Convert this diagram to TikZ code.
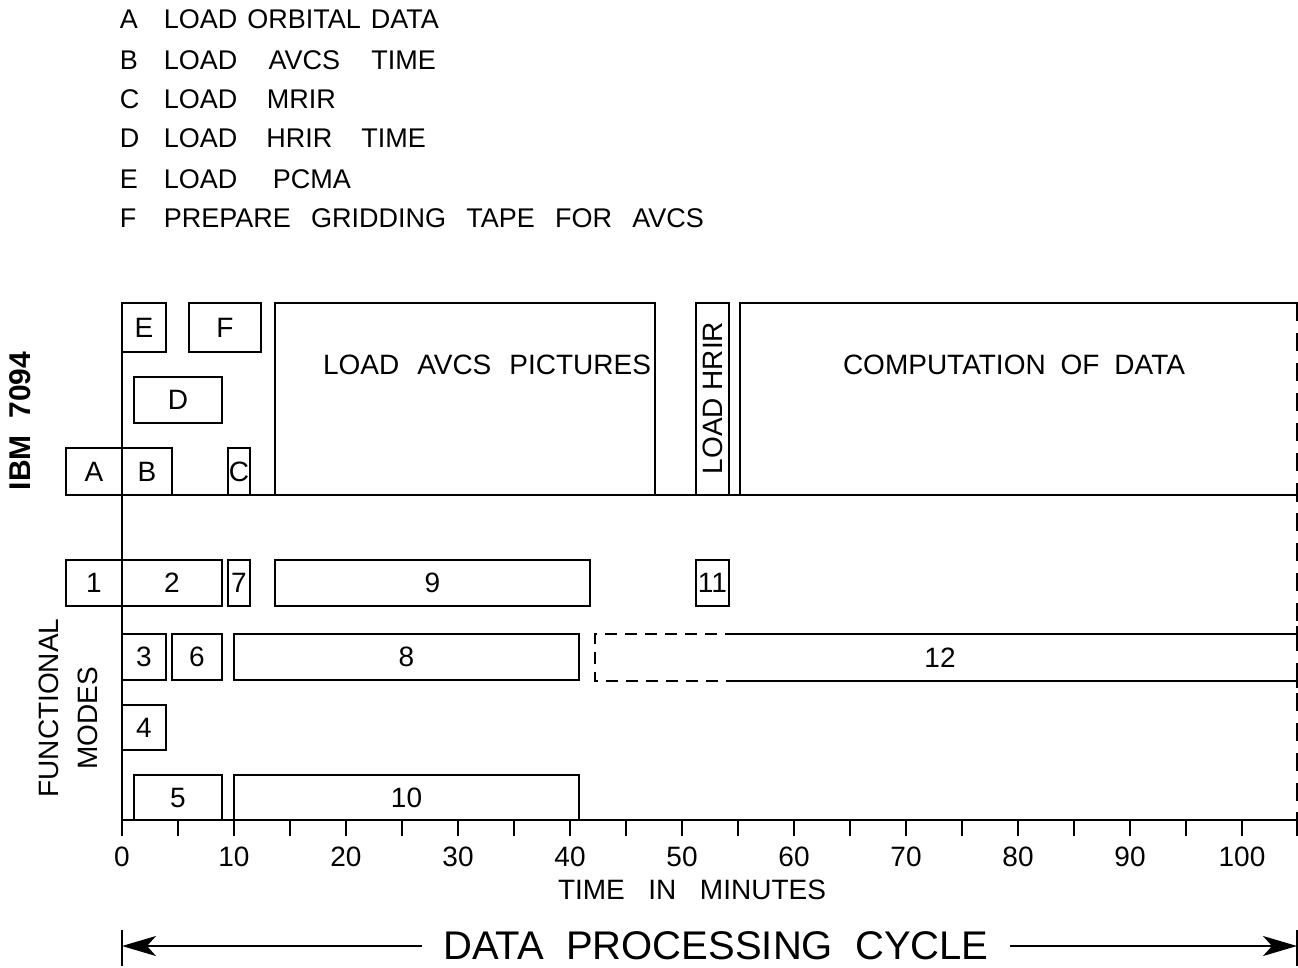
\documentclass[tikz,border=0pt]{standalone}
\usepackage{fontspec}
\setmainfont{Liberation Sans}
\usetikzlibrary{arrows.meta}
\newcommand{\tbox}[6]{\node[bx, minimum width={(#4-#2)*1pt}, minimum height={(#5-#3)*1pt}] (#1) at ({(#2+#4)/2},{(#3+#5)/2}) {#6};}
\newcommand{\spread}[2]{\hbox to #1pt{#2}}
\begin{document}
\begin{tikzpicture}[x=1pt,y=-1pt, line width=1.8pt,
  lbl/.style={font=\fontsize{28}{30}\selectfont, inner sep=0pt},
  leg/.style={font=\fontsize{27}{29}\selectfont, inner sep=0pt, anchor=base west},
  bx/.style={draw, rectangle, inner sep=0pt, font=\fontsize{28}{30}\selectfont},
  dashline/.style={line width=3pt, dash pattern=on 18pt off 12pt},
  shortdash/.style={dash pattern=on 12pt off 8pt},
  tipstyle/.style={-{Stealth[length=34pt,width=20pt,inset=9pt]}}]
\useasboundingbox (0,0) rectangle (1298,967);

% legend
\foreach \k/\t/\w/\y in {A/LOAD\hfil ORBITAL\hfil DATA/275/28, B/LOAD\hfil AVCS\hfil TIME/272/69, C/LOAD\hfil MRIR/172/108, D/LOAD\hfil HRIR\hfil TIME/262/147, E/LOAD\hfil PCMA/187/188, F/PREPARE\hfil GRIDDING\hfil TAPE\hfil FOR\hfil AVCS/540/227}{
  \node[leg] (key\k) at (119,\y) {\k};
  \node[leg] (leg\k) at (163,\y) {\spread{\w}{\t}};
}

% side labels
\node[rotate=90, inner sep=0pt, font=\fontsize{30}{32}\selectfont\bfseries] (ibm) at (20,421) {IBM\ \ 7094};
\node[lbl, rotate=90] (func) at (49,708) {FUNCTIONAL};
\node[lbl, rotate=90] (modes) at (88,718) {MODES};

% IBM 7094 row
\tbox{bE}{122}{303}{166}{352}{E}
\tbox{bF}{189}{303}{261}{352}{F}
\tbox{bD}{134}{377}{222}{423}{D}
\tbox{bA}{66}{448}{122}{495}{A}
\tbox{bB}{122}{448}{172}{495}{B}
\tbox{bC}{228}{448}{250}{495}{C}
\node[bx, minimum width=33pt, minimum height=192pt] (bH) at (712.5,399) {};
\node[lbl, rotate=90] (tH) at (712.5,398) {LOAD HRIR};
\draw (275,495) -- (275,303) -- (655,303) -- (655,495);
\node[lbl] (tAV) at (487,365) {\spread{328}{LOAD\hfil AVCS\hfil PICTURES}};
\draw (740,495) -- (740,303) -- (1297,303);
\node[lbl] (tCO) at (1014,365) {\spread{342}{COMPUTATION\hfil OF\hfil DATA}};

% main frame lines
\draw (66,495) -- (1297,495);
\draw (122,303) -- (122,836);
\draw[dashline] (1297,303) -- (1297,820);
\draw[line width=3pt] (1297,302) -- (1297,318);
\draw[line width=3pt] (1297,488) -- (1297,502);
\draw[line width=3pt] (1297,626) -- (1297,641);
\draw[line width=3pt] (1297,674) -- (1297,688);
\draw[line width=3pt] (1297,812) -- (1297,836);
\draw (737,634) -- (1297,634);
\draw (737,681) -- (1297,681);
\draw[shortdash] (737,634) -- (595,634) -- (595,681) -- (737,681);
\node[lbl] (b12) at (940,658) {12};

% functional modes
\tbox{b1}{66}{560}{122}{606}{1}
\tbox{b2}{122}{560}{222}{606}{2}
\tbox{b7}{228}{560}{250}{606}{7}
\tbox{b9}{275}{560}{590}{606}{9}
\tbox{b11}{696}{560}{729}{606}{11}
\tbox{b3}{122}{634}{166}{680}{3}
\tbox{b6}{172}{634}{222}{680}{6}
\tbox{b8}{234}{634}{579}{680}{8}
\tbox{b4}{122}{705}{166}{750}{4}
\tbox{b5}{134}{775}{222}{820}{5}
\tbox{b10}{234}{775}{579}{820}{10}

% axis
\draw (122,820) -- (1297,820);
\foreach \i in {1,...,20} \draw (122+\i*56,820) -- ++(0,16);
\foreach \v in {0,10,...,100} \node[lbl] (tk\v) at (122+\v*11.2,857) {\v};
\node[lbl] (tim) at (692,890) {\spread{268}{TIME\hfil IN\hfil MINUTES}};

% cycle arrow
\coordinate (la) at (122,946);
\coordinate (ra) at (1297,946);
\draw (122,930) -- (122,966);
\draw (1297,930) -- (1297,966);
\node[font=\fontsize{40}{42}\selectfont, inner ysep=0pt, inner xsep=20pt] (dpc) at (716,946) {DATA\ \ PROCESSING\ \ CYCLE};
\draw[tipstyle] (dpc.west) -- (la);
\draw[tipstyle] (dpc.east) -- (ra);
\end{tikzpicture}
\end{document}
